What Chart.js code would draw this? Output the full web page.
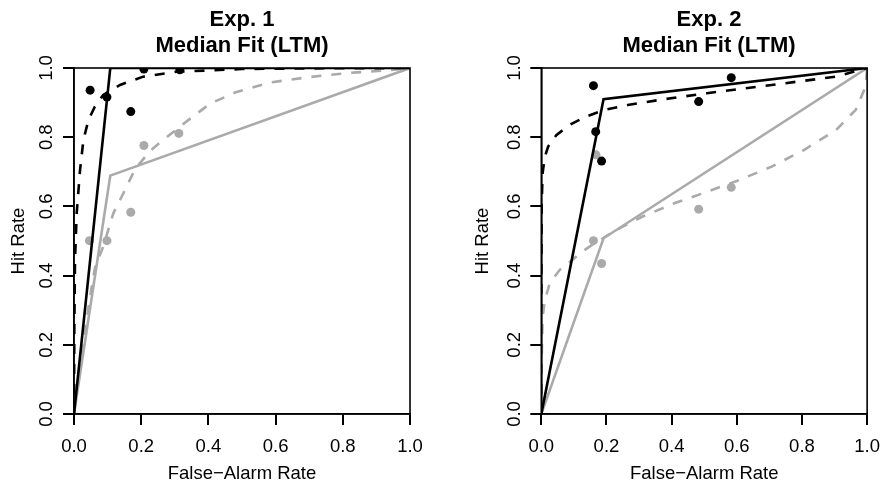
<!DOCTYPE html>
<html lang="en">
<head>
<meta charset="UTF-8">
<title>Median Fit (LTM)</title>
<script src="https://cdn.jsdelivr.net/npm/chart.js"></script>
<style>
  body { margin: 0; background: #fff; width: 891px; height: 486px; overflow: hidden; position: relative;
         font-family: "Liberation Sans", Arial, sans-serif; }
  .panel { position: absolute; top: 0; height: 486px; }
  .titre { position: absolute; top: 6px; width: 300px; text-align: center; font-weight: bold;
           font-size: 22px; line-height: 26px; color: #000; }
</style>
</head>
<body>
<div class="panel" style="left:0;width:445px"><canvas id="exp1"></canvas></div>
<div class="panel" style="left:445px;width:446px"><canvas id="exp2"></canvas></div>
<div class="titre" style="left:92px">Exp. 1<br>Median Fit (LTM)</div>
<div class="titre" style="left:559px">Exp. 2<br>Median Fit (LTM)</div>

<script>
// graduations communes
const tickValues = [0, 0.2, 0.4, 0.6, 0.8, 1.0];

// Exp. 1 - points observés
const e1BlackX = [0.048, 0.098, 0.169, 0.208, 0.315];
const e1BlackY = [0.936, 0.916, 0.874, 0.997, 0.995];
const e1GrayX = [0.046, 0.098, 0.169, 0.208, 0.312];
const e1GrayY = [0.501, 0.501, 0.583, 0.776, 0.811];
// Exp. 1 - ajustements
const e1SolidBlackX = [0, 0.108, 1];
const e1SolidBlackY = [0, 1.0, 1];
const e1SolidGrayX = [0, 0.108, 1];
const e1SolidGrayY = [0, 0.689, 1];
const e1DashBlackX = [0, 0.001, 0.003, 0.008, 0.018, 0.028, 0.043, 0.062, 0.087, 0.137, 0.206, 0.305, 0.5, 0.7, 1];
const e1DashBlackY = [0, 0.25, 0.445, 0.58, 0.705, 0.792, 0.85, 0.888, 0.922, 0.951, 0.975, 0.989, 0.997, 0.999, 1];
const e1DashGrayX = [0, 0.018, 0.033, 0.048, 0.062, 0.087, 0.117, 0.147, 0.182, 0.226, 0.256, 0.345, 0.405, 0.484, 0.583, 0.702, 0.821, 0.93, 1];
const e1DashGrayY = [0, 0.146, 0.243, 0.339, 0.421, 0.484, 0.58, 0.638, 0.708, 0.76, 0.785, 0.853, 0.897, 0.931, 0.958, 0.974, 0.986, 0.993, 1];

// Exp. 2 - points observés
const e2BlackX = [0.160, 0.167, 0.185, 0.483, 0.583];
const e2BlackY = [0.949, 0.816, 0.731, 0.903, 0.972];
const e2GrayX = [0.168, 0.160, 0.185, 0.483, 0.583];
const e2GrayY = [0.749, 0.501, 0.435, 0.592, 0.655];
// Exp. 2 - ajustements
const e2SolidBlackX = [0, 0.191, 1];
const e2SolidBlackY = [0, 0.910, 1];
const e2SolidGrayX = [0, 0.191, 1];
const e2SolidGrayY = [0, 0.508, 1];
const e2DashBlackX = [0, 0, 0.001, 0.004, 0.011, 0.021, 0.046, 0.086, 0.135, 0.195, 0.265, 0.364, 0.508, 0.707, 0.905, 1];
const e2DashBlackY = [0, 0.35, 0.6, 0.696, 0.744, 0.773, 0.806, 0.835, 0.859, 0.879, 0.893, 0.908, 0.927, 0.951, 0.975, 1];
const e2DashGrayX = [0, 0.001, 0.004, 0.011, 0.026, 0.056, 0.095, 0.125, 0.155, 0.23, 0.309, 0.408, 0.508, 0.607, 0.707, 0.806, 0.905, 0.965, 0.995, 1];
const e2DashGrayY = [0, 0.15, 0.28, 0.329, 0.378, 0.416, 0.445, 0.469, 0.488, 0.532, 0.57, 0.609, 0.642, 0.676, 0.715, 0.763, 0.821, 0.879, 0.946, 1];

const BLACK = '#000000';
const GRAY = '#aaaaaa';
const FONT = "'Liberation Sans', Arial, sans-serif";

function pts(xs, ys) {
    return xs.map((x, i) => ({ x: x, y: ys[i] }));
}

function line(xs, ys, color, dashed) {
    return {
        data: pts(xs, ys), showLine: true, borderColor: color, borderWidth: 2.6,
        borderDash: dashed ? [10, 10] : [], pointRadius: 0, tension: 0, fill: false
    };
}

function dots(xs, ys, color) {
    return {
        data: pts(xs, ys), showLine: false, backgroundColor: color, borderWidth: 0,
        pointRadius: 4.5, pointHoverRadius: 4.5
    };
}

// cadre autour de la zone de tracé (comme bty="o" dans R)
const cadre = {
    id: 'cadre',
    afterDatasetsDraw(chart) {
        const a = chart.chartArea;
        const ctx = chart.ctx;
        ctx.save();
        ctx.strokeStyle = '#000';
        ctx.lineWidth = 1.6;
        ctx.strokeRect(a.left, a.top, a.right - a.left, a.bottom - a.top);
        ctx.restore();
    }
};

function axe(title, titlePad, extra) {
    return Object.assign({
        type: 'linear', min: 0, max: 1,
        afterBuildTicks: s => { s.ticks = tickValues.map(v => ({ value: v })); },
        grid: { display: true, drawOnChartArea: false, drawTicks: true, tickLength: 11,
                color: '#000', lineWidth: 2, tickColor: '#000', tickWidth: 2 },
        border: { display: true, color: '#000', width: 1.6 },
        title: { display: true, text: title, color: '#000', padding: titlePad,
                 font: { family: FONT, size: 18.5, lineHeight: 1.2 } }
    }, extra);
}

function makeChart(id, d, yWidth, padRight, yTitlePad) {
    return new Chart(document.getElementById(id), {
        type: 'scatter',
        data: {
            datasets: [
                dots(d.bx, d.by, BLACK),
                line(d.sbx, d.sby, BLACK, false),
                line(d.dbx, d.dby, BLACK, true),
                dots(d.gx, d.gy, GRAY),
                line(d.sgx, d.sgy, GRAY, false),
                line(d.dgx, d.dgy, GRAY, true)
            ]
        },
        options: {
            responsive: true,
            maintainAspectRatio: false,
            animation: false,
            layout: { padding: { left: 0, top: 68, right: padRight, bottom: 0 } },
            plugins: { legend: { display: false }, tooltip: { enabled: false } },
            scales: {
                x: axe('False\u2212Alarm Rate', { top: 0, bottom: 1 }, {
                    afterFit: s => { s.height = 72; },
                    ticks: { color: '#000', padding: 11, maxRotation: 0, font: { family: FONT, size: 18.5, lineHeight: 1.2 },
                             callback: v => v.toFixed(1) }
                }),
                y: axe('Hit Rate', { top: yTitlePad, bottom: 0 }, {
                    afterFit: s => { s.width = yWidth; },
                    ticks: { color: '#000', padding: 3, minRotation: 90, maxRotation: 90, crossAlign: 'center',
                             font: { family: FONT, size: 18.5, lineHeight: 1.2 },
                             callback: v => v.toFixed(1) }
                })
            }
        },
        plugins: [cadre]
    });
}

const exp1 = {
    bx: e1BlackX, by: e1BlackY, gx: e1GrayX, gy: e1GrayY,
    sbx: e1SolidBlackX, sby: e1SolidBlackY, sgx: e1SolidGrayX, sgy: e1SolidGrayY,
    dbx: e1DashBlackX, dby: e1DashBlackY, dgx: e1DashGrayX, dgy: e1DashGrayY
};
const exp2 = {
    bx: e2BlackX, by: e2BlackY, gx: e2GrayX, gy: e2GrayY,
    sbx: e2SolidBlackX, sby: e2SolidBlackY, sgx: e2SolidGrayX, sgy: e2SolidGrayY,
    dbx: e2DashBlackX, dby: e2DashBlackY, dgx: e2DashGrayX, dgy: e2DashGrayY
};

makeChart('exp1', exp1, 74, 35, 8);
makeChart('exp2', exp2, 96.3, 14.3, 27);
</script>
</body>
</html>
